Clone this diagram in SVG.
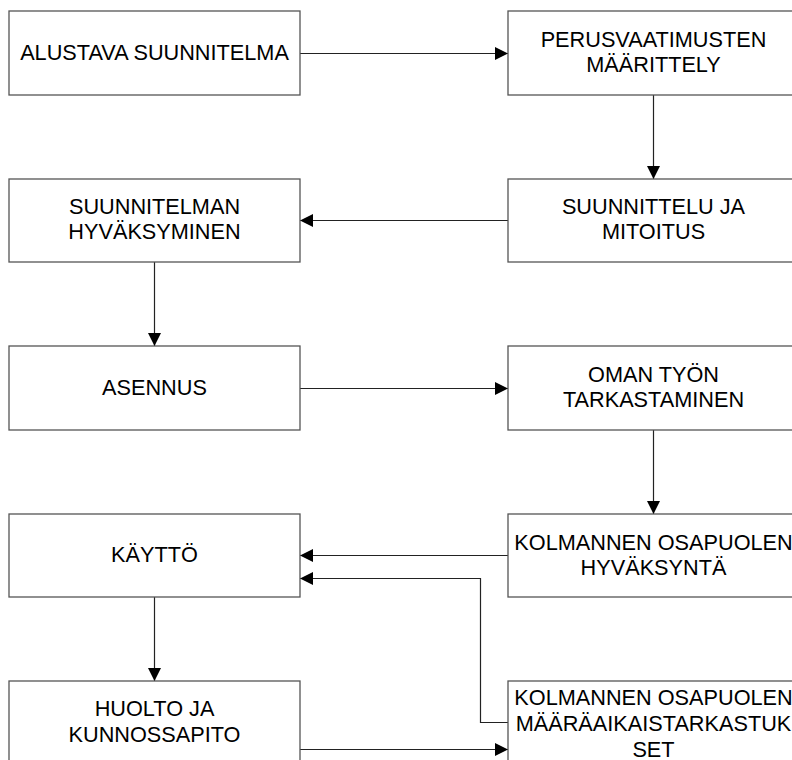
<svg xmlns="http://www.w3.org/2000/svg" width="792" height="760" viewBox="0 0 792 760">
<defs>
<style>
.box{fill:#fff;stroke:#555;stroke-width:1.3}
.lbl{font-family:"Liberation Sans",Arial,sans-serif;font-size:21.7px;fill:#000;text-anchor:middle}
.con{fill:none;stroke:#222;stroke-width:1.2}
</style>
<marker id="ah" viewBox="0 0 13 13" refX="13" refY="6.5" markerWidth="13" markerHeight="13" markerUnits="userSpaceOnUse" orient="auto">
<path d="M0,0 L13,6.5 L0,13 Z" fill="#000"/>
</marker>
</defs>
<rect width="792" height="760" fill="#fff"/>
<g id="connectors">
<path class="con" d="M300,53.5 H508" marker-end="url(#ah)"/>
<path class="con" d="M653.5,95 V179" marker-end="url(#ah)"/>
<path class="con" d="M508,220.5 H300" marker-end="url(#ah)"/>
<path class="con" d="M154.5,262 V346" marker-end="url(#ah)"/>
<path class="con" d="M300,388.5 H508" marker-end="url(#ah)"/>
<path class="con" d="M653.5,430 V514" marker-end="url(#ah)"/>
<path class="con" d="M508,555.5 H300" marker-end="url(#ah)"/>
<path class="con" d="M154.5,597 V681" marker-end="url(#ah)"/>
<path class="con" d="M300,749.5 H508" marker-end="url(#ah)"/>
<path class="con" d="M508,722.5 H480.5 V578.5 H300" marker-end="url(#ah)"/>
</g>
<g id="n1"><rect class="box" x="9" y="11" width="291" height="84"/><text class="lbl" x="154.5" y="60">ALUSTAVA SUUNNITELMA</text></g>
<g id="n2"><rect class="box" x="508" y="11" width="291" height="84"/><text class="lbl" x="653.5" y="47">PERUSVAATIMUSTEN</text><text class="lbl" x="653.5" y="72">MÄÄRITTELY</text></g>
<g id="n3"><rect class="box" x="508" y="179" width="291" height="83"/><text class="lbl" x="653.5" y="214">SUUNNITTELU JA</text><text class="lbl" x="653.5" y="239">MITOITUS</text></g>
<g id="n4"><rect class="box" x="9" y="179" width="291" height="83"/><text class="lbl" x="154.5" y="214">SUUNNITELMAN</text><text class="lbl" x="154.5" y="239">HYVÄKSYMINEN</text></g>
<g id="n5"><rect class="box" x="9" y="346" width="291" height="84"/><text class="lbl" x="154.5" y="395">ASENNUS</text></g>
<g id="n6"><rect class="box" x="508" y="346" width="291" height="84"/><text class="lbl" x="653.5" y="382">OMAN TYÖN</text><text class="lbl" x="653.5" y="407">TARKASTAMINEN</text></g>
<g id="n7"><rect class="box" x="508" y="514" width="291" height="83"/><text class="lbl" x="653.5" y="550">KOLMANNEN OSAPUOLEN</text><text class="lbl" x="653.5" y="575">HYVÄKSYNTÄ</text></g>
<g id="n8"><rect class="box" x="9" y="514" width="291" height="83"/><text class="lbl" x="154.5" y="562">KÄYTTÖ</text></g>
<g id="n9"><rect class="box" x="9" y="681" width="291" height="90"/><text class="lbl" x="154.5" y="716">HUOLTO JA</text><text class="lbl" x="154.5" y="742">KUNNOSSAPITO</text></g>
<g id="n10"><rect class="box" x="508" y="681" width="291" height="90"/><text class="lbl" x="653.5" y="705">KOLMANNEN OSAPUOLEN</text><text class="lbl" x="653.5" y="731">MÄÄRÄAIKAISTARKASTUK</text><text class="lbl" x="653.5" y="757">SET</text></g>
</svg>
